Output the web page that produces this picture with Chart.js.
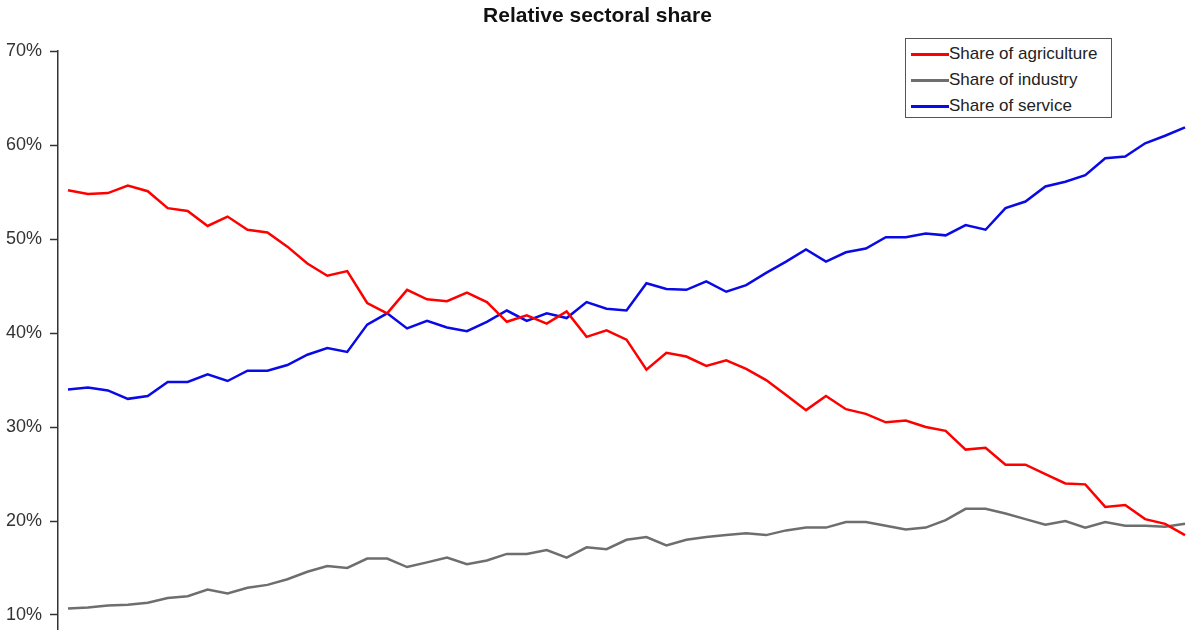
<!DOCTYPE html>
<html>
<head>
<meta charset="utf-8">
<title>Relative sectoral share</title>
<script src="https://cdn.jsdelivr.net/npm/chart.js@4.4.1/dist/chart.umd.min.js"></script>
<style>
  html, body { margin: 0; padding: 0; background: #fff; }
  #wrap { position: relative; width: 1200px; height: 630px; }
  #legend {
    position: absolute; left: 905px; top: 38px; width: 207px; height: 80px;
    box-sizing: border-box; border: 1px solid #555; background: #fff;
    font-family: "Liberation Sans", Arial, sans-serif; font-size: 17px; color: #222;
    padding-top: 2px;
  }
  .row { height: 26px; display: flex; align-items: center; }
  .swatch { width: 38px; height: 3px; margin-left: 5px; }
</style>
</head>
<body>
<div id="wrap">
  <canvas id="shareChart" width="1200" height="630"></canvas>
  <div id="legend"></div>
</div>
<script>
// values, one per period
const agriculture = [55.2, 54.8, 54.9, 55.7, 55.1, 53.3, 53.0, 51.4, 52.4, 51.0,
  50.7, 49.2, 47.4, 46.1, 46.6, 43.2, 42.1, 44.6, 43.6, 43.4,
  44.3, 43.3, 41.2, 41.9, 41.0, 42.3, 39.6, 40.3, 39.3, 36.1,
  37.9, 37.5, 36.5, 37.1, 36.2, 35.0, 33.4, 31.8, 33.3, 31.9,
  31.4, 30.5, 30.7, 30.0, 29.6, 27.6, 27.8, 26.0, 26.0, 25.0,
  24.0, 23.9, 21.5, 21.7, 20.2, 19.7, 18.5];
const industry = [10.7, 10.8, 11.0, 11.1, 11.3, 11.8, 12.0, 12.7, 12.3, 12.9,
  13.2, 13.8, 14.6, 15.2, 15.0, 16.0, 16.0, 15.1, 15.6, 16.1,
  15.4, 15.8, 16.5, 16.5, 16.9, 16.1, 17.2, 17.0, 18.0, 18.3,
  17.4, 18.0, 18.3, 18.5, 18.7, 18.5, 19.0, 19.3, 19.3, 19.9,
  19.9, 19.5, 19.1, 19.3, 20.1, 21.3, 21.3, 20.8, 20.2, 19.6,
  20.0, 19.3, 19.9, 19.5, 19.5, 19.4, 19.7];
const service = [34.0, 34.2, 33.9, 33.0, 33.3, 34.8, 34.8, 35.6, 34.9, 36.0,
  36.0, 36.6, 37.7, 38.4, 38.0, 40.9, 42.1, 40.5, 41.3, 40.6,
  40.2, 41.2, 42.4, 41.3, 42.1, 41.6, 43.3, 42.6, 42.4, 45.3,
  44.7, 44.6, 45.5, 44.4, 45.1, 46.4, 47.6, 48.9, 47.6, 48.6,
  49.0, 50.2, 50.2, 50.6, 50.4, 51.5, 51.0, 53.3, 54.0, 55.6,
  56.1, 56.8, 58.6, 58.8, 60.2, 61.0, 61.9];
const yTicks = [10, 20, 30, 40, 50, 60, 70];
const periods = agriculture.map((_, i) => String(i + 1));

const font = "'Liberation Sans', Arial, sans-serif";

const data = {
  labels: periods,
  datasets: [
    { label: "Share of agriculture", data: agriculture, borderColor: "#ff0000" },
    { label: "Share of industry", data: industry, borderColor: "#6e6e6e" },
    { label: "Share of service", data: service, borderColor: "#0a0ae6" },
  ],
};

const config = {
  type: "line",
  data: data,
  options: {
    responsive: false,
    animation: false,
    elements: {
      line: { borderWidth: 2.5, tension: 0 },
      point: { radius: 0 },
    },
    layout: { padding: { left: 0, right: 5, top: 0, bottom: 0 } },
    scales: {
      x: { display: false, offset: true },
      y: {
        min: 8.4,
        max: 70,
        afterBuildTicks: (axis) => {
          axis.ticks = yTicks.map((v) => ({ value: v }));
        },
        afterFit: (axis) => {
          axis.width = 58;
          axis.paddingBottom = 0;
        },
        ticks: {
          callback: (v) => v + "%",
          color: "#333",
          padding: 8,
          font: { family: font, size: 18 },
        },
        grid: { drawOnChartArea: false, tickLength: 8, color: "#333", tickWidth: 1.5 },
        border: { color: "#333", width: 1.5 },
      },
    },
    plugins: {
      legend: { display: false },
      tooltip: { enabled: false },
      title: {
        display: true,
        text: "Relative sectoral share",
        color: "#111",
        font: { family: font, size: 21, weight: "bold" },
        padding: { top: 4, bottom: 22 },
      },
    },
  },
};

const shareChart = new Chart(document.getElementById("shareChart").getContext("2d"), config);

// legend box in the top right corner
const legend = document.getElementById("legend");
data.datasets.forEach((ds) => {
  const row = document.createElement("div");
  row.className = "row";
  const sw = document.createElement("span");
  sw.className = "swatch";
  sw.style.background = ds.borderColor;
  const txt = document.createElement("span");
  txt.textContent = ds.label;
  row.appendChild(sw);
  row.appendChild(txt);
  legend.appendChild(row);
});
</script>
</body>
</html>
